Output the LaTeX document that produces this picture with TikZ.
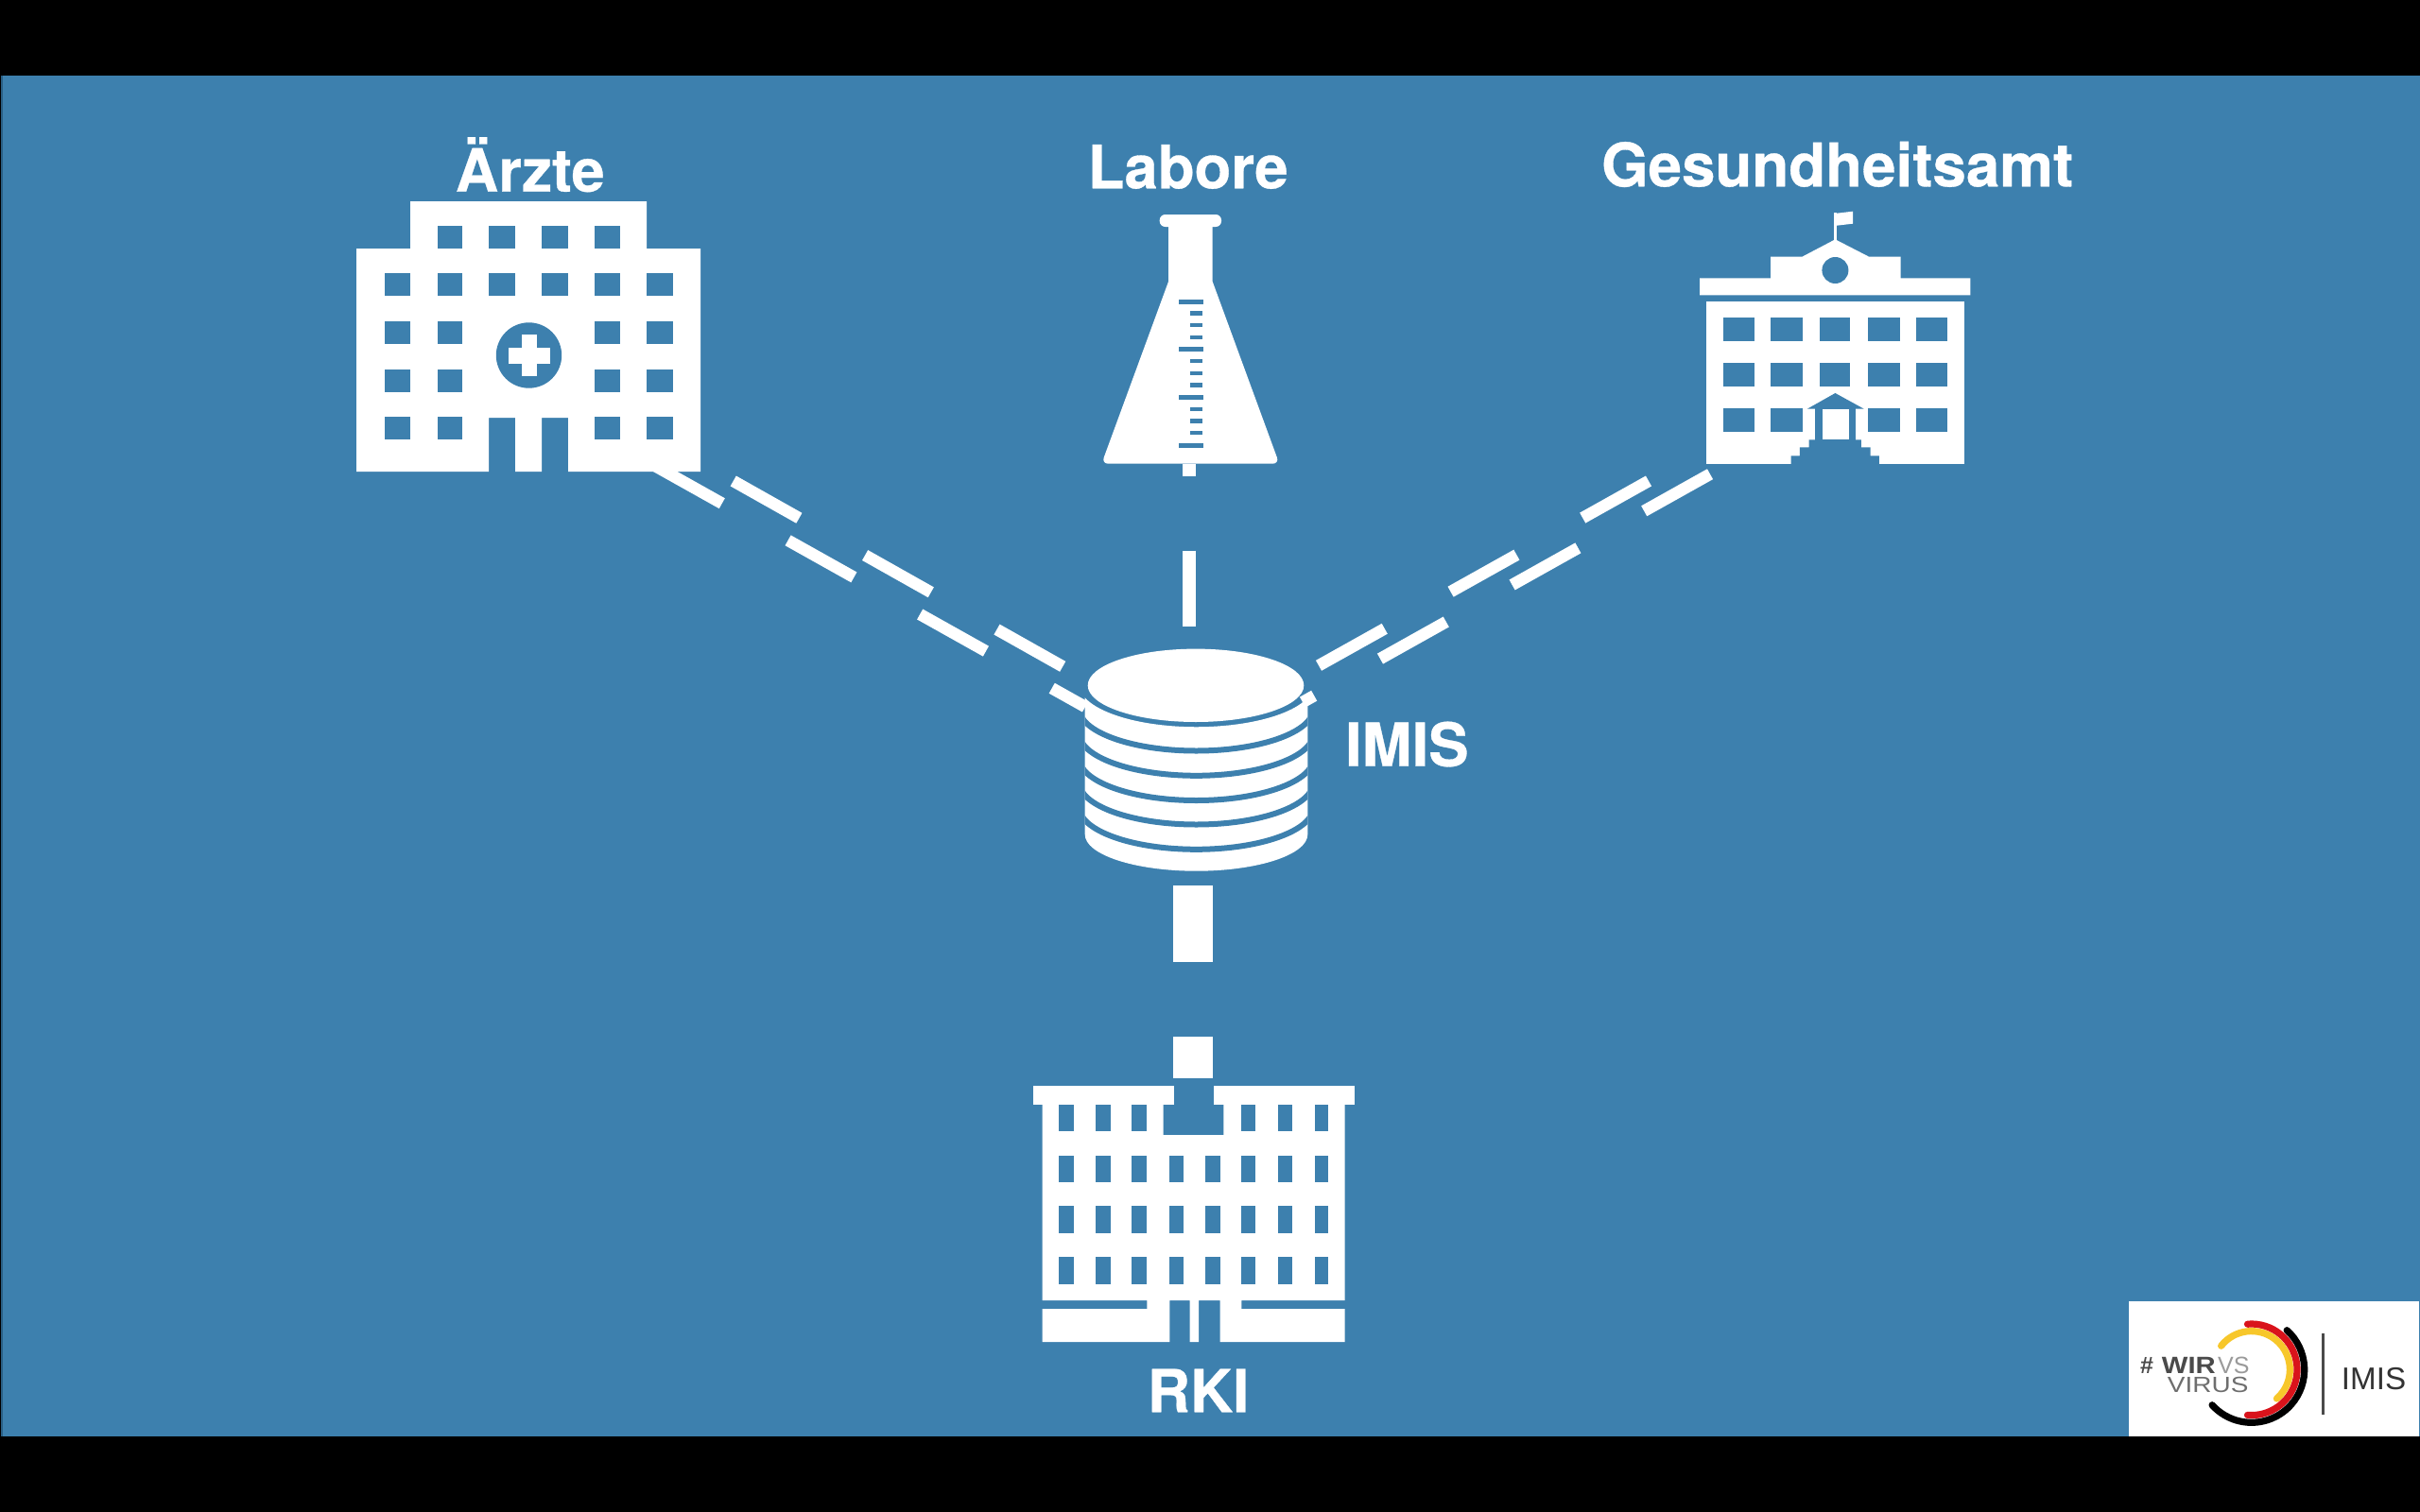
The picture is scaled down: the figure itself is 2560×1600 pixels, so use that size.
\documentclass[tikz,border=0pt]{standalone}
\usepackage{fontspec}
\setmainfont{Liberation Sans}
\newfontfamily\labfont[BoldFeatures={FakeBold=0.5}]{TeX Gyre Heros}
\usetikzlibrary{shapes.geometric}
\definecolor{bgblue}{HTML}{3D80AE}
\definecolor{edgeblue}{HTML}{2A5F85}
\definecolor{logogrey}{HTML}{4A4A4A}
\definecolor{logomid}{HTML}{6E6E6E}
\definecolor{logolight}{HTML}{9A9A9A}
\definecolor{logoyellow}{HTML}{F7C72B}
\definecolor{logored}{HTML}{D9131B}
\tikzset{
  iconpart/.style={fill=white},
  cutout/.style={fill=bgblue},
  labeltext/.style={text=white,font=\labfont\bfseries,anchor=base,inner sep=0pt},
  link/.style={draw=white,line width=12.5pt,dash pattern=on 80pt off 80pt},
  vlink/.style={draw=white,line width=14.3pt,dash pattern=on 80pt off 79pt,dash phase=67.3pt},
  widelink/.style={draw=white,line width=42pt,dash pattern=on 80.7pt off 79pt},
  logoring/.style={line width=7.2pt,line cap=round},
  logotext/.style={anchor=base west,inner sep=0pt}
}
\newcommand{\fsz}[1]{\fontsize{#1}{#1}\selectfont}
\begin{document}
\begin{tikzpicture}[x=1pt,y=-1pt]
\useasboundingbox (0,0) rectangle (2560,1600);
\fill[black] (0,0) rectangle (2560,1600);
\fill[bgblue] (1,80) rectangle (2560,1520);
\fill[edgeblue] (1,80) rectangle (2.5,1520);

% Hospital
\fill[iconpart] (377,263) -- (434,263) -- (434,213) -- (684,213) -- (684,263) -- (741,263) -- (741,499)
  -- (601,499) -- (601,442) -- (573,442) -- (573,499) -- (545,499) -- (545,442) -- (517,442) -- (517,499) -- (377,499) -- cycle;
\foreach \a/\b in {463/489,517/545,573/601,629/656} \fill[cutout] (\a,239) rectangle (\b,263);
\foreach \a/\b in {407/434,463/489,517/545,573/601,629/656,684/712} \fill[cutout] (\a,289) rectangle (\b,313);
\foreach \a/\b in {407/434,463/489,629/656,684/712}
  \foreach \c/\d in {340/364,391/415,441/465} \fill[cutout] (\a,\c) rectangle (\b,\d);
\fill[cutout] (559.5,376) circle[radius=34.7pt];
\fill[iconpart] (552,354) rectangle (568,398);
\fill[iconpart] (537.7,368) rectangle (581.7,385);

% Flask
\fill[iconpart,rounded corners=6pt] (1226.7,227) rectangle (1292,240);
\fill[iconpart] (1236,235) -- (1236,298) [rounded corners=7pt] -- (1165.3,490.7) -- (1353.3,490.7) [sharp corners] -- (1282.7,298) -- (1282.7,235) -- cycle;
\foreach \y in {319,369,420,471} \fill[cutout] (1246.7,\y-2.5) rectangle (1273,\y+2.5);
\foreach \y in {331.3,344,356.7,382,394.7,407.3,432.7,445.3,458} \fill[cutout] (1259,\y-2.2) rectangle (1272,\y+2.2);

% Health office
\fill[iconpart] (1940.4,225) rectangle (1943.2,256);
\fill[iconpart] (1940.4,226) -- (1960,223.7) -- (1960,236.7) -- (1940.4,239) -- cycle;
\fill[iconpart] (1798.2,294.3) -- (1873.2,294.3) -- (1873.2,271.7) -- (1906.4,271.7) -- (1941.4,253.3) -- (1977.1,271.7) -- (2010.7,271.7) -- (2010.7,294.3) -- (2084.3,294.3) -- (2084.3,312.3) -- (1798.2,312.3) -- cycle;
\fill[cutout] (1941.4,286) circle[radius=14pt];
\fill[iconpart] (1805.4,318.7) rectangle (2077.5,490.7);
\foreach \a/\b in {1822.5/1856,1873.2/1906.8,1925.4/1957.1,1976/2009.6,2026.8/2060.4}
  \foreach \c/\d in {336/361.3,384/409.3} \fill[cutout] (\a,\c) rectangle (\b,\d);
\foreach \a/\b in {1822.5/1856,1873.2/1906.8,1976/2009.6,2026.8/2060.4} \fill[cutout] (\a,432) rectangle (\b,457.3);
\fill[cutout] (1941.4,416) -- (1971.8,432.7) -- (1962.9,432.7) -- (1962.9,465.3) -- (1968.9,465.3) -- (1968.9,473.3) -- (1978.6,473.3) -- (1978.6,482.3) -- (1987.9,482.3) -- (1987.9,491)
  -- (1894.6,491) -- (1894.6,482.3) -- (1903.9,482.3) -- (1903.9,473.3) -- (1913.6,473.3) -- (1913.6,465.3) -- (1920,465.3) -- (1920,432.7) -- (1911.8,432.7) -- cycle;
\fill[iconpart] (1927.9,433) rectangle (1956.4,465.3);

% RKI
\fill[iconpart] (1092.7,1149.3) rectangle (1241.7,1169.3);
\fill[iconpart] (1284,1149.3) rectangle (1433.3,1169.3);
\fill[iconpart] (1102.7,1165) -- (1230.7,1165) -- (1230.7,1201) -- (1294.3,1201) -- (1294.3,1165) -- (1422.7,1165) -- (1422.7,1376) -- (1313.3,1376) -- (1313.3,1385) -- (1422.7,1385) -- (1422.7,1420)
  -- (1290.7,1420) -- (1290.7,1376) -- (1268,1376) -- (1268,1420) -- (1258.7,1420) -- (1258.7,1376) -- (1237.3,1376) -- (1237.3,1420) -- (1102.7,1420) -- (1102.7,1385) -- (1213.3,1385) -- (1213.3,1376) -- (1102.7,1376) -- cycle;
\foreach \a/\b in {1120/1136,1158.7/1174.7,1197.3/1213.3,1313.3/1328,1352/1366.7,1390.7/1405.3} \fill[cutout] (\a,1169.3) rectangle (\b,1197.3);
\foreach \a/\b in {1120/1136,1158.7/1174.7,1197.3/1213.3,1237.3/1252,1274.7/1290.7,1313.3/1328,1352/1366.7,1390.7/1405.3}
  \foreach \c/\d in {1222.7/1250.7,1276/1305.3,1330/1358.7} \fill[cutout] (\a,\c) rectangle (\b,\d);

% Database stack
\fill[iconpart] (1147.7,738.3) -- (1147.7,883) arc[start angle=180,end angle=360,x radius=117.8pt,y radius=38.7pt]
  -- (1383.3,738.3) arc[start angle=-18.2,end angle=-161.8,x radius=124pt,y radius=45pt] -- cycle;
\begin{scope}
  \clip (1147.7,730) rectangle (1383.3,930);
  \foreach \g in {794.5,820.8,847,872.5,898.8}
    \draw[bgblue,line width=6pt] (1141.5,\g-45) arc[start angle=180,end angle=360,x radius=124pt,y radius=45pt];
\end{scope}
\node[ellipse,fill=white,inner sep=0pt,minimum width=228.6pt,minimum height=77.4pt] (imis) at (1265,725.3) {};

% Link end points
\coordinate (aerzteA) at (694,493.6);
\coordinate (imisA) at (1148,748);
\coordinate (aerzteB) at (775.7,509);
\coordinate (imisB) at (1124.5,705.5);
\coordinate (amtA) at (1744,509);
\coordinate (imisC) at (1395,704.3);
\coordinate (amtB) at (1809,501.7);
\coordinate (imisD) at (1378,743);
\coordinate (flask) at (1258,491);
\coordinate (imisE) at (1258,664);
\coordinate (imisF) at (1261.7,937.3);
\coordinate (rki) at (1261.7,1141);

\draw[link] (aerzteA) -- (imisA);
\draw[link] (aerzteB) -- (imisB);
\draw[link] (amtA) -- (imisC);
\draw[link] (amtB) -- (imisD);
\draw[vlink] (flask) -- (imisE);
\draw[widelink] (imisF) -- (rki);

% Labels
\node[labeltext] (lAerzte) at (560.7,202.7) {\fsz{63}Ärzte};
\node[labeltext] (lLabore) at (1256.7,199.3) {\fsz{63.5}Labore};
\node[labeltext] (lAmt) at (1943.6,197.3) {\fsz{63.7}Gesundheitsamt};
\node[labeltext] (lImis) at (1488.3,810.7) {\fsz{63.5}IMIS};
\node[labeltext] (lRki) at (1267.7,1494.3) {\fsz{62.5}RKI};

% Logo
\fill[white] (2251.7,1377.3) rectangle (2559.3,1520);
\coordinate (ringc) at (2381.7,1449.3);
\draw[logoring,draw=logoyellow] ([shift={(142:40.7pt)}]ringc) arc[start angle=142,end angle=-49,radius=40.7pt];
\draw[logoring,draw=logored] ([shift={(95:48.3pt)}]ringc) arc[start angle=95,end angle=-95,radius=48.3pt];
\draw[logoring,draw=black] ([shift={(48:56pt)}]ringc) arc[start angle=48,end angle=-138,radius=56pt];
\node[logotext,text=logogrey] (lHash) at (2264,1453) {\fsz{25}\bfseries\#};
\node[logotext,text=logogrey,xscale=1.17] (lWir) at (2286.7,1453) {\fsz{25}\bfseries WIR};
\node[logotext,text=logolight] (lVs) at (2346,1453) {\fsz{25}VS};
\node[logotext,text=logomid,xscale=1.2] (lVirus) at (2292.7,1473.3) {\fsz{23.3}VIRUS};
\draw[logogrey,line width=2.5pt] (2457.7,1410.7) -- (2457.7,1496.7);
\node[logotext,text=black!80] (lLogo) at (2476.7,1470) {\fsz{33.2}IMIS};
\end{tikzpicture}
\end{document}
